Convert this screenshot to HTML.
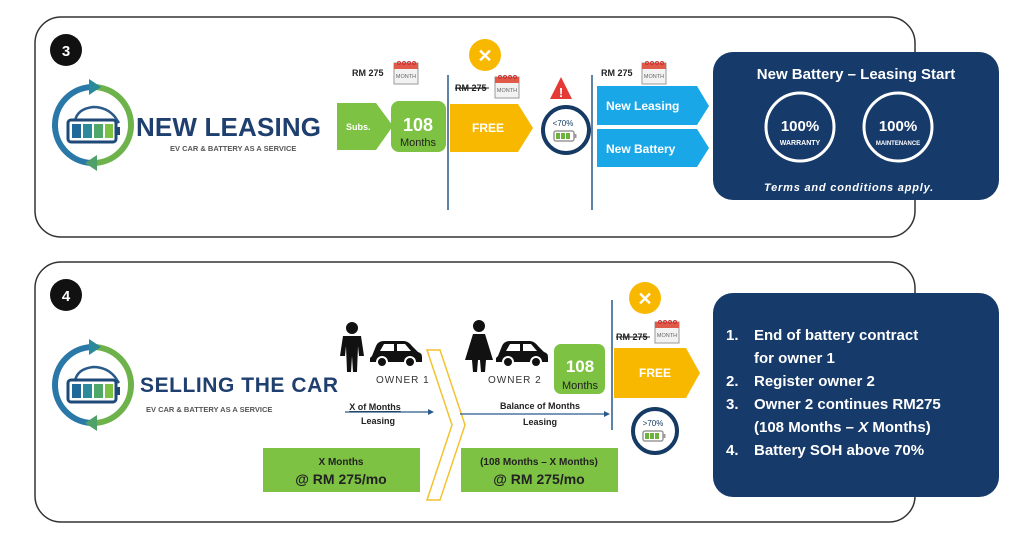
<!DOCTYPE html>
<html><head><meta charset="utf-8"><style>
html,body{margin:0;padding:0;background:#fff;}
svg{display:block;}
text{font-family:"Liberation Sans",sans-serif;}
</style></head><body>
<svg width="1024" height="552" viewBox="0 0 1024 552" xmlns="http://www.w3.org/2000/svg">
<defs>
<g id="cal">
  <rect x="0" y="3" width="24" height="21" fill="#f2f2f2" stroke="#999" stroke-width="1"/>
  <rect x="0" y="3" width="24" height="6" fill="#e05a4a"/>
  <circle cx="5" cy="3" r="1.5" fill="none" stroke="#c33"/><circle cx="10" cy="3" r="1.5" fill="none" stroke="#c33"/>
  <circle cx="15" cy="3" r="1.5" fill="none" stroke="#c33"/><circle cx="20" cy="3" r="1.5" fill="none" stroke="#c33"/>
  <text x="12" y="18" font-size="5.5" fill="#666" text-anchor="middle">MONTH</text>
</g>
<g id="logo">
  <path d="M0,-38 A38,38 0 0 0 0,38" fill="none" stroke="#2a78a8" stroke-width="6"/>
  <path d="M0,-38 A38,38 0 0 1 0,38" fill="none" stroke="#6db24a" stroke-width="6"/>
  <polygon points="-4,-46 8,-38 -4,-30" fill="#2a8a9a"/>
  <polygon points="4,30 -8,38 4,46" fill="#4fa06a"/>
  <path d="M-18,-4 Q-16,-16 0,-18 Q14,-18 22,-8 L26,-2" fill="none" stroke="#2a5a8a" stroke-width="2.5"/>
  <rect x="-25" y="-5" width="48" height="22" rx="3" fill="none" stroke="#1f4a78" stroke-width="3"/>
  <rect x="23" y="2" width="4" height="8" fill="#1f4a78"/>
  <rect x="-21" y="-1" width="9" height="14" fill="#1f6a9a"/>
  <rect x="-10" y="-1" width="9" height="14" fill="#2d8a9a"/>
  <rect x="1" y="-1" width="9" height="14" fill="#4fa86a"/>
  <rect x="12" y="-1" width="8" height="14" fill="#7dc242"/>
</g>
<g id="batt">
  <rect x="-10" y="0" width="20" height="10" rx="2" fill="none" stroke="#999" stroke-width="1.5"/>
  <rect x="10" y="3" width="2.5" height="4" fill="#999"/>
  <rect x="-8" y="2" width="4" height="6" fill="#6db23a"/><rect x="-3" y="2" width="4" height="6" fill="#6db23a"/><rect x="2" y="2" width="4" height="6" fill="#6db23a"/>
</g>
<g id="car">
  <path d="M2,18 L6,8 Q8,3 14,3 L34,3 Q38,3 42,8 L48,14 Q52,15 52,19 L52,24 L0,24 L0,20 Z" fill="#111"/>
  <path d="M10,13 L14,6 L24,6 L24,13 Z M27,6 L35,6 L41,13 L27,13 Z" fill="#fff"/>
  <circle cx="12" cy="24" r="5" fill="#111" stroke="#fff" stroke-width="2"/>
  <circle cx="40" cy="24" r="5" fill="#111" stroke="#fff" stroke-width="2"/>
</g>
</defs>

<!-- Panel 1 -->
<rect x="35" y="17" width="880" height="220" rx="26" fill="#fff" stroke="#333" stroke-width="1.5"/>
<circle cx="66" cy="50" r="16" fill="#111"/>
<text x="66" y="56" font-size="15" font-weight="bold" fill="#fff" text-anchor="middle">3</text>
<use href="#logo" x="93" y="125"/>
<text x="136" y="136" font-size="26" font-weight="bold" fill="#1f3f6e" textLength="185">NEW LEASING</text>
<text x="170" y="151" font-size="7.5" font-weight="bold" fill="#555">EV CAR &amp; BATTERY AS A SERVICE</text>

<text x="352" y="76" font-size="9" font-weight="bold" fill="#222">RM 275</text>
<use href="#cal" x="394" y="60"/>
<polygon points="337,103 376,103 393,126 376,150 337,150" fill="#7dc242"/>
<text x="346" y="130" font-size="9" font-weight="bold" fill="#fff">Subs.</text>
<rect x="391" y="101" width="55" height="51" rx="8" fill="#7dc242"/>
<text x="418" y="131" font-size="18" font-weight="bold" fill="#fff" text-anchor="middle">108</text>
<text x="418" y="146" font-size="11" fill="#222" text-anchor="middle">Months</text>
<line x1="448" y1="75" x2="448" y2="210" stroke="#2a5a8a" stroke-width="1.5"/>
<circle cx="485" cy="55" r="16" fill="#f9b800"/>
<text x="485" y="62" font-size="18" font-weight="bold" fill="#fff" text-anchor="middle">✕</text>
<text x="455" y="91" font-size="9" font-weight="bold" fill="#222" text-decoration="line-through">RM 275</text>
<line x1="455" y1="88" x2="489" y2="88" stroke="#222" stroke-width="1"/>
<use href="#cal" x="495" y="74"/>
<polygon points="450,104 518,104 533,128 518,152 450,152" fill="#f9b800"/>
<text x="488" y="132" font-size="12" font-weight="bold" fill="#fff" text-anchor="middle">FREE</text>
<polygon points="561,77 572,99 550,99" fill="#e53935"/>
<text x="561" y="97" font-size="13" font-weight="bold" fill="#fff" text-anchor="middle">!</text>
<circle cx="566" cy="130" r="23" fill="#fff" stroke="#153a63" stroke-width="4"/>
<text x="563" y="126" font-size="8" fill="#153a63" text-anchor="middle">&lt;70%</text>
<use href="#batt" x="564" y="131"/>
<line x1="592" y1="75" x2="592" y2="210" stroke="#2a5a8a" stroke-width="1.5"/>
<text x="601" y="76" font-size="9" font-weight="bold" fill="#222">RM 275</text>
<use href="#cal" x="642" y="60"/>
<polygon points="597,86 697,86 709,106 697,125 597,125" fill="#1aa7e8"/>
<text x="606" y="110" font-size="12" font-weight="bold" fill="#fff">New Leasing</text>
<polygon points="597,129 697,129 709,148 697,167 597,167" fill="#1aa7e8"/>
<text x="606" y="153" font-size="12" font-weight="bold" fill="#fff">New Battery</text>

<rect x="713" y="52" width="286" height="148" rx="20" fill="#163a6a"/>
<text x="856" y="79" font-size="15" font-weight="bold" fill="#fff" text-anchor="middle">New Battery – Leasing Start</text>
<circle cx="800" cy="127" r="34" fill="none" stroke="#fff" stroke-width="3"/>
<text x="800" y="131" font-size="15" font-weight="bold" fill="#fff" text-anchor="middle">100%</text>
<text x="800" y="145" font-size="7" font-weight="bold" fill="#fff" text-anchor="middle">WARRANTY</text>
<circle cx="898" cy="127" r="34" fill="none" stroke="#fff" stroke-width="3"/>
<text x="898" y="131" font-size="15" font-weight="bold" fill="#fff" text-anchor="middle">100%</text>
<text x="898" y="145" font-size="6" font-weight="bold" fill="#fff" text-anchor="middle">MAINTENANCE</text>
<text x="849" y="191" font-size="11" font-weight="bold" font-style="italic" fill="#fff" text-anchor="middle" letter-spacing="0.8">Terms and conditions apply.</text>

<!-- Panel 2 -->
<rect x="35" y="262" width="880" height="260" rx="26" fill="#fff" stroke="#333" stroke-width="1.5"/>
<circle cx="66" cy="295" r="16" fill="#111"/>
<text x="66" y="301" font-size="15" font-weight="bold" fill="#fff" text-anchor="middle">4</text>
<use href="#logo" x="93" y="385"/>
<text x="140" y="392" font-size="21" font-weight="bold" fill="#1f3f6e" textLength="198">SELLING THE CAR</text>
<text x="146" y="412" font-size="7.5" font-weight="bold" fill="#555">EV CAR &amp; BATTERY AS A SERVICE</text>

<!-- owner1 person -->
<circle cx="352" cy="328" r="6" fill="#111"/>
<path d="M343,336 L361,336 L364,356 L359,356 L358,346 L357,372 L353,372 L352,356 L351,372 L347,372 L346,346 L345,356 L340,356 Z" fill="#111"/>
<use href="#car" x="370" y="338"/>
<text x="376" y="383" font-size="10" fill="#333" letter-spacing="1">OWNER 1</text>
<text x="375" y="410" font-size="9" font-weight="bold" fill="#222" text-anchor="middle" text-decoration="underline">X of Months</text>
<line x1="345" y1="412" x2="430" y2="412" stroke="#2a5a8a" stroke-width="1.2"/>
<polygon points="434,412 428,409 428,415" fill="#2a5a8a"/>
<text x="378" y="424" font-size="9" font-weight="bold" fill="#222" text-anchor="middle">Leasing</text>
<polygon points="427,350 440,350 465,425 440,500 427,500 452,425" fill="none" stroke="#f2c230" stroke-width="1.5"/>

<circle cx="479" cy="326" r="6" fill="#111"/>
<path d="M473,334 L485,334 L493,360 L486,360 L485,372 L481,372 L480,360 L478,360 L477,372 L473,372 L472,360 L465,360 Z" fill="#111"/>
<use href="#car" x="496" y="338"/>
<text x="488" y="383" font-size="10" fill="#333" letter-spacing="1">OWNER 2</text>
<rect x="554" y="344" width="51" height="50" rx="7" fill="#7dc242"/>
<text x="580" y="372" font-size="17" font-weight="bold" fill="#fff" text-anchor="middle">108</text>
<text x="580" y="389" font-size="11" fill="#222" text-anchor="middle">Months</text>
<text x="540" y="409" font-size="9" font-weight="bold" fill="#222" text-anchor="middle">Balance of Months</text>
<line x1="460" y1="414" x2="606" y2="414" stroke="#2a5a8a" stroke-width="1.2"/>
<polygon points="610,414 604,411 604,417" fill="#2a5a8a"/>
<text x="540" y="425" font-size="9" font-weight="bold" fill="#222" text-anchor="middle">Leasing</text>
<line x1="612" y1="300" x2="612" y2="430" stroke="#2a5a8a" stroke-width="1.5"/>
<circle cx="645" cy="298" r="16" fill="#f9b800"/>
<text x="645" y="305" font-size="18" font-weight="bold" fill="#fff" text-anchor="middle">✕</text>
<text x="616" y="340" font-size="9" font-weight="bold" fill="#222">RM 275</text>
<line x1="616" y1="337" x2="650" y2="337" stroke="#222" stroke-width="1"/>
<use href="#cal" x="655" y="319"/>
<polygon points="614,348 686,348 700,373 686,398 614,398" fill="#f9b800"/>
<text x="655" y="377" font-size="12" font-weight="bold" fill="#fff" text-anchor="middle">FREE</text>
<circle cx="655" cy="431" r="22" fill="#fff" stroke="#153a63" stroke-width="4"/>
<text x="653" y="426" font-size="8" fill="#153a63" text-anchor="middle">&gt;70%</text>
<use href="#batt" x="653" y="431"/>

<rect x="263" y="448" width="157" height="44" fill="#7dc242"/>
<text x="341" y="465" font-size="10" font-weight="bold" fill="#222" text-anchor="middle">X Months</text>
<text x="341" y="484" font-size="14" font-weight="bold" fill="#222" text-anchor="middle">@ RM 275/mo</text>
<rect x="461" y="448" width="157" height="44" fill="#7dc242"/>
<text x="539" y="465" font-size="10" font-weight="bold" fill="#222" text-anchor="middle">(108 Months – X Months)</text>
<text x="539" y="484" font-size="14" font-weight="bold" fill="#222" text-anchor="middle">@ RM 275/mo</text>

<rect x="713" y="293" width="286" height="204" rx="20" fill="#163a6a"/>
<g font-size="15" font-weight="bold" fill="#fff">
<text x="726" y="340">1.</text><text x="754" y="340">End of battery contract</text>
<text x="754" y="363">for owner 1</text>
<text x="726" y="386">2.</text><text x="754" y="386">Register owner 2</text>
<text x="726" y="409">3.</text><text x="754" y="409">Owner 2 continues RM275</text>
<text x="754" y="432">(108 Months – <tspan font-style="italic">X</tspan> Months)</text>
<text x="726" y="455">4.</text><text x="754" y="455">Battery SOH above 70%</text>
</g>
</svg>
</body></html>
